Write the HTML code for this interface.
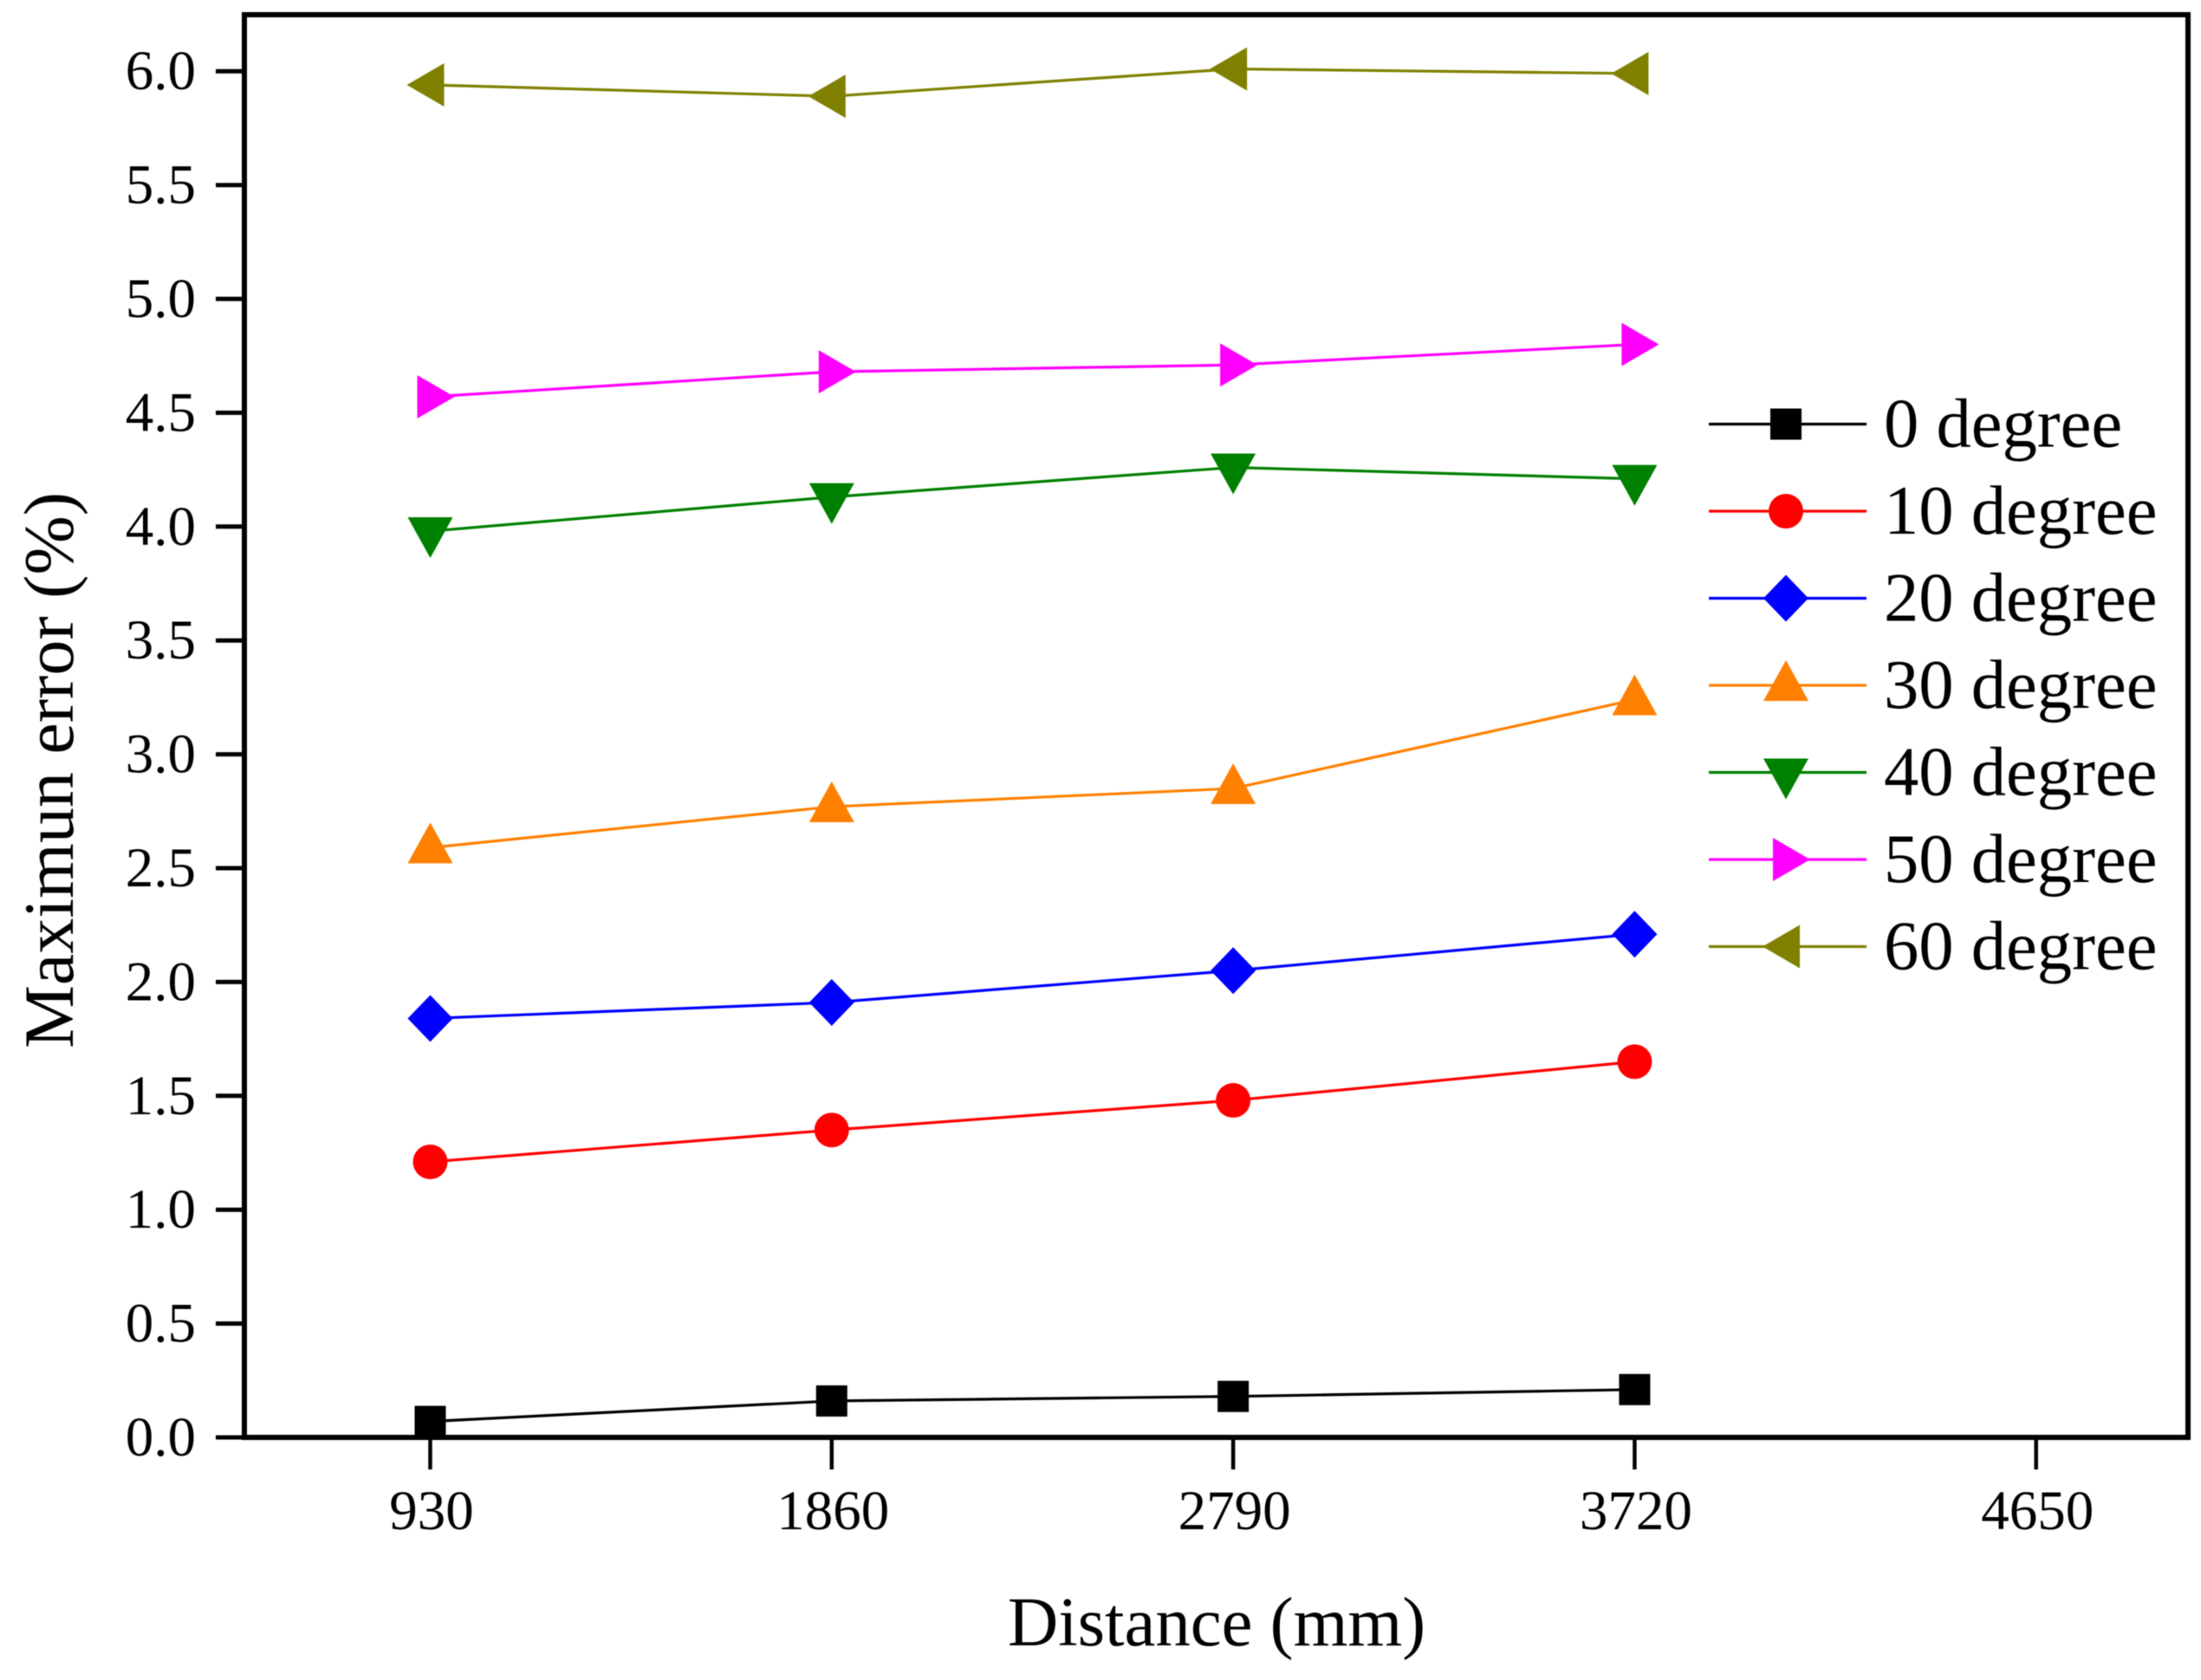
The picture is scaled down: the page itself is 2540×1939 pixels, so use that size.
<!DOCTYPE html>
<html lang="en">
<head>
<meta charset="utf-8">
<title>Maximum error vs distance</title>
<style>
html,body{margin:0;padding:0;background:#fff;}
body{width:2540px;height:1939px;overflow:hidden;}
svg{display:block;filter:blur(0.6px);}
text{font-family:"Liberation Serif",serif;fill:#000;}
</style>
</head>
<body>
<svg id="chart" xmlns="http://www.w3.org/2000/svg" width="2540" height="1939" viewBox="0 0 2540 1939"></svg>
<script>
const categories = [930, 1860, 2790, 3720];
const xTickLabels = [930, 1860, 2790, 3720, 4650];
const yTickLabels = ["0.0","0.5","1.0","1.5","2.0","2.5","3.0","3.5","4.0","4.5","5.0","5.5","6.0"];
const seriesNames = ["0 degree","10 degree","20 degree","30 degree","40 degree","50 degree","60 degree"];
const values0 = [0.07, 0.16, 0.18, 0.21];
const values10 = [1.21, 1.35, 1.48, 1.65];
const values20 = [1.84, 1.91, 2.05, 2.21];
const values30 = [2.59, 2.77, 2.85, 3.24];
const values40 = [3.98, 4.13, 4.26, 4.21];
const values50 = [4.57, 4.68, 4.71, 4.80];
const values60 = [5.94, 5.89, 6.01, 5.99];
const allValues = [values0, values10, values20, values30, values40, values50, values60];
const colors = ["#000000","#ff0000","#0000ff","#ff8000","#008000","#ff00ff","#808000"];
const shapes = ["square","circle","diamond","up","down","right","left"];

const NS = "http://www.w3.org/2000/svg";
const svg = document.getElementById("chart");
const X0 = 496.5, XSTEP = 463.3, Y0 = 1659, YUNIT = 262.8;
const xScale = d => X0 + XSTEP * (d - 930) / 930;
const yScale = v => Y0 - YUNIT * v;

function mk(tag, attrs, parent) {
  const el = document.createElementNS(NS, tag);
  for (const k in attrs) el.setAttribute(k, attrs[k]);
  (parent || svg).appendChild(el);
  return el;
}

function drawMarker(parent, shape, x, y, color) {
  let el;
  if (shape === "square") {
    el = mk("rect", {x: x - 18, y: y - 18, width: 36, height: 36, fill: color}, parent);
  } else if (shape === "circle") {
    el = mk("circle", {cx: x, cy: y, r: 20, fill: color}, parent);
  } else {
    let p;
    if (shape === "diamond") p = [[x, y - 27], [x + 26, y], [x, y + 27], [x - 26, y]];
    if (shape === "up") p = [[x, y - 29], [x + 26, y + 18], [x - 26, y + 18]];
    if (shape === "down") p = [[x, y + 31], [x + 26, y - 16], [x - 26, y - 16]];
    if (shape === "right") p = [[x + 28, y], [x - 15, y - 25], [x - 15, y + 25]];
    if (shape === "left") p = [[x - 27, y], [x + 16, y - 25], [x + 16, y + 25]];
    el = mk("polygon", {points: p.map(q => q.join(",")).join(" "), fill: color}, parent);
  }
  return el;
}

// Frame
const frame = mk("rect", {x: 282, y: 17, width: 2243, height: 1642, fill: "none", stroke: "#000", "stroke-width": 6});



// Y axis ticks
const yAxis = mk("g", {});


yTickLabels.forEach(label => {
  const y = yScale(parseFloat(label));
  const tick = mk("line", {x1: 249, x2: 282, y1: y, y2: y, stroke: "#000", "stroke-width": 5}, yAxis);
  
  
  const t = mk("text", {x: 226, y: y + 21, "text-anchor": "end", "font-size": 65}, yAxis);
  t.textContent = label;
  
  
});

// X axis ticks
const xAxis = mk("g", {});


xTickLabels.forEach(d => {
  const x = xScale(d);
  const tick = mk("line", {x1: x, x2: x, y1: Y0, y2: 1696, stroke: "#000", "stroke-width": 4.5}, xAxis);
  
  
  const t = mk("text", {x: x + 1.5, y: 1765, "text-anchor": "middle", "font-size": 65}, xAxis);
  t.textContent = d;
  
  
});

// Axis titles
const xTitle = mk("text", {x: 1404, y: 1899, "text-anchor": "middle", "font-size": 80.8});
xTitle.textContent = "Distance (mm)";


const yTitle = mk("text", {x: 0, y: 0, "text-anchor": "middle", "font-size": 82, transform: "translate(84,889) rotate(-90)"});
yTitle.textContent = "Maximun error (%)";



// Series
allValues.forEach((vals, i) => {
  const g = mk("g", {});
  
  
  const line = mk("polyline", {
    points: vals.map((v, j) => xScale(categories[j]) + "," + yScale(v)).join(" "),
    fill: "none", stroke: colors[i], "stroke-width": 3.2
  }, g);
  
  
  vals.forEach((v, j) => {
    const m = drawMarker(g, shapes[i], xScale(categories[j]), yScale(v), colors[i]);
    
    
  });
});

// Legend
const legend = mk("g", {});


seriesNames.forEach((name, i) => {
  const y = 489.5 + i * 100.5;
  const row = mk("g", {}, legend);
  
  
  const l = mk("line", {x1: 1972, x2: 2154, y1: y, y2: y, stroke: colors[i], "stroke-width": 3.2}, row);
  
  
  const m = drawMarker(row, shapes[i], 2061, y, colors[i]);
  
  
  const t = mk("text", {x: 2174, y: y + 26, "font-size": 80.6}, row);
  t.textContent = name;
  
  
});
</script>
</body>
</html>
